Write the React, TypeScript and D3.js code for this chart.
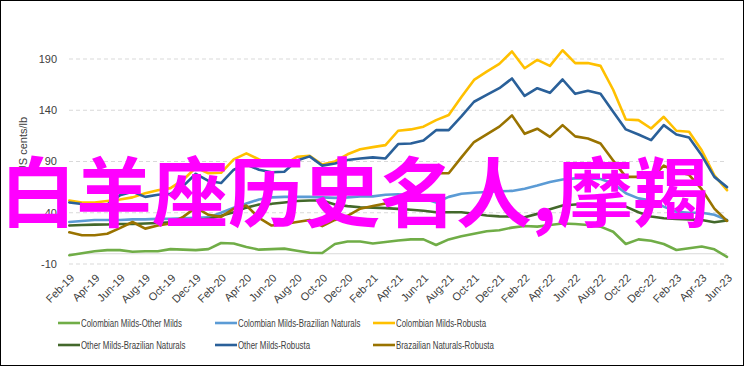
import { useRef, useEffect } from 'react';
import * as d3 from 'd3';

const months = [
	'Feb-19', 'Mar-19', 'Apr-19', 'May-19', 'Jun-19', 'Jul-19', 'Aug-19', 'Sep-19', 'Oct-19', 'Nov-19', 'Dec-19',
	'Jan-20', 'Feb-20', 'Mar-20', 'Apr-20', 'May-20', 'Jun-20', 'Jul-20', 'Aug-20', 'Sep-20', 'Oct-20', 'Nov-20', 'Dec-20',
	'Jan-21', 'Feb-21', 'Mar-21', 'Apr-21', 'May-21', 'Jun-21', 'Jul-21', 'Aug-21', 'Sep-21', 'Oct-21', 'Nov-21', 'Dec-21',
	'Jan-22', 'Feb-22', 'Mar-22', 'Apr-22', 'May-22', 'Jun-22', 'Jul-22', 'Aug-22', 'Sep-22', 'Oct-22', 'Nov-22', 'Dec-22',
	'Jan-23', 'Feb-23', 'Mar-23', 'Apr-23', 'May-23', 'Jun-23',
];

const yTicks = [-10, 40, 90, 140, 190];

const cmOm = [
	-1.5, 0.5, 2.5, 3.5, 3.5, 2, 2.5, 2.5, 4.5, 4, 3.5, 4.5, 10.5, 10, 6.5, 4, 4.5, 5, 3, 1,
	0.7, 9.5, 12, 12, 10, 11.5, 13, 14, 14, 8.5, 14, 17, 19.5, 22, 23, 25.5, 27, 26.5, 28, 29.5,
	29, 28, 26.5, 21.5, 9.5, 14, 12.7, 9.5, 3.7, 5.4, 7, 4.3, -3,
];
const cmBn = [
	31, 32, 33, 33, 33, 33.5, 33.5, 34, 34, 34.5, 35, 35.5, 40, 45, 49, 53, 55, 55.5, 55.5, 55.5,
	55, 54.5, 55, 56, 56, 57.5, 58, 57, 54, 50, 55.5, 58.5, 59.5, 60.3, 61, 61.3, 63.5, 66.5, 70, 72.5,
	73.5, 73.5, 73, 68.5, 59, 54, 52, 46, 41, 40, 40, 38, 33,
];
const cmRob = [
	52, 50, 50, 51.5, 53, 55, 59, 62, 64, 72, 84, 78.5, 79, 92, 98, 92, 86.5, 87, 94.5, 95.5,
	87, 90, 97, 102, 104, 106, 120, 121.3, 124, 130.4, 135.3, 153, 169.6, 177.7, 185.3, 197.4, 181, 189.2, 183.3, 198.5,
	186, 186, 183.3, 160, 131, 130.4, 122.2, 133.6, 120, 119, 101, 76.5, 62,
];
const omBn = [
	27.5, 28, 28.4, 28.5, 29, 29, 29.5, 30, 30.7, 31.5, 33, 34, 37, 40.5, 45, 48, 48.7, 50, 51.5, 52,
	52, 48, 46.5, 45.4, 45, 44.5, 43.8, 43, 42, 40.5, 40.5, 40.5, 39, 37.3, 36.5, 36.3, 35.6, 38.9, 43.5, 47,
	48, 48.7, 48, 47, 46, 40.5, 36.3, 34.6, 34, 33.5, 33, 30.7, 32.4,
];
const omRob = [
	50, 48.5, 47.5, 48, 57, 60.5, 55.5, 57.5, 58.5, 66, 78, 71, 69, 82, 87, 82, 79.5, 80, 91, 95,
	86, 88, 91.5, 93, 94, 93, 107, 107.5, 110.5, 120.6, 120.6, 134, 148.3, 155, 161.5, 171, 154, 161.5, 157, 170,
	156, 159, 156, 138.5, 121.3, 116.3, 110.8, 125.5, 116.3, 113.4, 96, 75, 65,
];
const bnRob = [
	21, 18, 18, 19.5, 25, 31, 24.5, 27.5, 29.5, 36, 45, 38, 36, 44, 47, 35, 27.5, 29, 31, 33,
	27, 33, 37, 44, 46.5, 49, 54, 60, 66, 78.5, 78.5, 94, 109, 116.5, 124, 135, 117, 122, 114, 125.5,
	114.5, 112.5, 107.5, 91, 75, 75, 73.5, 86, 80, 77, 63, 44, 32,
];

const seriesNames = [
	'Colombian Milds-Other Milds',
	'Colombian Milds-Brazilian Naturals',
	'Colombian Milds-Robusta',
	'Other Milds-Brazilian Naturals',
	'Other Milds-Robusta',
	'Brazailian Naturals-Robusta',
];
const seriesValues = [cmOm, cmBn, cmRob, omBn, omRob, bnRob];
const seriesColors = ['#70AD47', '#5B9BD5', '#FFC000', '#43682B', '#2A6099', '#997300'];
// draw order: back to front
const drawOrder = [0, 1, 3, 5, 2, 4];

const overlayText = '白羊座历史名人,摩羯';

const W = 744;
const H = 366;
const FONT = "'Liberation Sans', sans-serif";

export default function App() {
	const svgRef = useRef<SVGSVGElement>(null);

	useEffect(() => {
		const svg = d3.select(svgRef.current);
		svg.selectAll('*').remove();

		const x = d3.scalePoint<string>().domain(months).range([69.3, 727]);
		const y = d3.scaleLinear().domain([-10, 190]).range([264, 59]);

		svg.append('rect')
			.attr('x', 0.5)
			.attr('y', 0.5)
			.attr('width', W - 1)
			.attr('height', H - 1)
			.attr('fill', '#fff')
			.attr('stroke', '#000');

		// gridlines
		const grid = svg.append('g');
		yTicks.forEach((t) => {
			grid.append('line')
				.attr('x1', 69)
				.attr('x2', 727)
				.attr('y1', y(t))
				.attr('y2', y(t))
				.attr('stroke', '#d9d9d9')
				.attr('stroke-dasharray', '4,3');
		});
		grid.append('line')
			.attr('x1', 69)
			.attr('x2', 727)
			.attr('y1', y(0))
			.attr('y2', y(0))
			.attr('stroke', '#d9d9d9');

		// y tick labels
		svg.append('g')
			.selectAll('text')
			.data(yTicks)
			.join('text')
			.attr('x', 57)
			.attr('y', (d) => y(d))
			.attr('dy', '0.35em')
			.attr('text-anchor', 'end')
			.attr('font-size', 11)
			.attr('fill', '#404040')
			.text((d) => d);

		// y title
		svg.append('text')
			.attr('transform', `translate(27,145) rotate(-90)`)
			.attr('text-anchor', 'middle')
			.attr('font-size', 11)
			.attr('fill', '#404040')
			.text('US cents/lb');

		// x labels every 2nd month
		svg.append('g')
			.selectAll('text')
			.data(months.filter((_, i) => i % 2 === 0))
			.join('text')
			.attr('transform', (d) => `translate(${(x(d) as number) + 3},276) rotate(-45)`)
			.attr('dy', '0.35em')
			.attr('text-anchor', 'end')
			.attr('font-size', 11)
			.attr('fill', '#404040')
			.text((d) => d);

		// lines
		const line = d3
			.line<number>()
			.x((_, i) => x(months[i]) as number)
			.y((d) => y(d));
		drawOrder.forEach((k) => {
			svg.append('path')
				.attr('d', line(seriesValues[k]))
				.attr('fill', 'none')
				.attr('stroke', seriesColors[k])
				.attr('stroke-width', 2.6)
				.attr('stroke-linejoin', 'round')
				.attr('stroke-linecap', 'round');
		});

		// legend (narrow glyphs, like the original Calibri)
		const colX = [58, 215, 373];
		const rowY = [323, 345];
		seriesNames.forEach((name, k) => {
			const cx = colX[k % 3];
			const cy = rowY[Math.floor(k / 3)];
			svg.append('line')
				.attr('x1', cx)
				.attr('x2', cx + 22)
				.attr('y1', cy)
				.attr('y2', cy)
				.attr('stroke', seriesColors[k])
				.attr('stroke-width', 2.6);
			svg.append('text')
				.attr('transform', `translate(${cx + 23},${cy}) scale(0.75,1)`)
				.attr('dy', '0.35em')
				.attr('font-size', 10.5)
				.attr('fill', '#404040')
				.text(name);
		});

		// overlay caption
		svg.append('text')
			.attr('x', 0)
			.attr('y', 221)
			.attr('font-family', "'Noto Sans CJK SC', sans-serif")
			.attr('font-weight', 'bold')
			.attr('font-size', 76)
			.attr('fill', '#FF00FF')
			.text(overlayText);
	}, []);

	return (
		<div style={{ position: 'absolute', left: 0, top: 0 }}>
			<svg
				ref={svgRef}
				width={W}
				height={H}
				style={{ fontFamily: FONT, display: 'block' }}
			/>
		</div>
	);
}
